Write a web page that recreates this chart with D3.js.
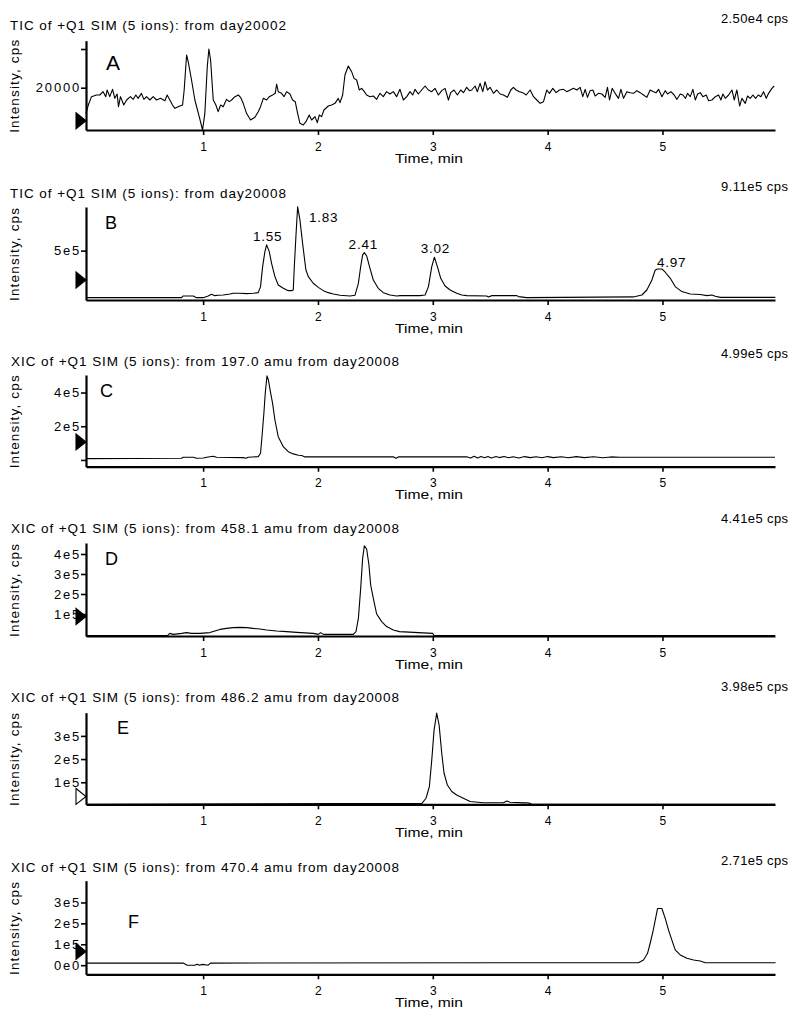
<!DOCTYPE html>
<html><head><meta charset="utf-8">
<script src="https://cdn.jsdelivr.net/npm/d3@7"></script>
<style>
body{margin:0;background:#fff}
svg{display:block}
text{font-family:"Liberation Sans",Arial,Helvetica,sans-serif;fill:#000}
</style>
</head><body>
<svg id="chart" width="798" height="1014"></svg>
<script>
// ---------------- DATA ----------------
const timeDomain = [-0.02, 5.98];
const xTickValues = [1, 2, 3, 4, 5];

const panelTitles = [
  "TIC of +Q1 SIM (5 ions): from day20002",
  "TIC of +Q1 SIM (5 ions): from day20008",
  "XIC of +Q1 SIM (5 ions): from 197.0 amu from day20008",
  "XIC of +Q1 SIM (5 ions): from 458.1 amu from day20008",
  "XIC of +Q1 SIM (5 ions): from 486.2 amu from day20008",
  "XIC of +Q1 SIM (5 ions): from 470.4 amu from day20008"
];
const maxLabels = ["2.50e4 cps", "9.11e5 cps", "4.99e5 cps", "4.41e5 cps", "3.98e5 cps", "2.71e5 cps"];
const panelLetters = ["A", "B", "C", "D", "E", "F"];

const yTickValuesA = [20000, 25000];        const yTickLabelsA = ["20000", ""];
const yTickValuesB = [500000];              const yTickLabelsB = ["5e5"];
const yTickValuesC = [0, 200000, 400000];   const yTickLabelsC = ["", "2e5", "4e5"];
const yTickValuesD = [100000, 200000, 300000, 400000]; const yTickLabelsD = ["1e5", "2e5", "3e5", "4e5"];
const yTickValuesE = [100000, 200000, 300000];         const yTickLabelsE = ["1e5", "2e5", "3e5"];
const yTickValuesF = [0, 100000, 200000, 300000];      const yTickLabelsF = ["0e0", "1e5", "2e5", "3e5"];

const yDomainA = [14535, 26072];
const yDomainB = [36000, 910000];
const yDomainC = [-40000, 504000];
const yDomainD = [-10000, 455000];
const yDomainE = [5000, 400000];
const yDomainF = [-43500, 404000];

// threshold marker (triangle) values per panel
const markerValues = [15724, 224000, 107000, 87500, 38800, 65600];
const markerFilled = [true, true, true, true, false, true];

// Panel A: TIC day20002
const tA = [
 -0.02,0.000,0.028,0.071,0.100,0.129,0.152,0.164,0.187,0.211,
 0.231,0.251,0.263,0.280,0.309,0.333,0.367,0.391,0.414,0.434,
 0.463,0.484,0.507,0.536,0.565,0.594,0.629,0.667,0.687,0.710,
 0.733,0.754,0.797,0.821,0.835,0.856,0.870,0.899,0.928,0.966,
 0.995,1.015,1.036,1.050,1.065,1.088,1.111,1.131,1.152,1.175,
 1.204,1.227,1.248,1.277,1.306,1.326,1.349,1.378,1.413,1.451,
 1.480,1.500,1.524,1.553,1.576,1.605,1.628,1.640,1.654,1.683,
 1.704,1.727,1.756,1.779,1.802,1.823,1.843,1.872,1.895,1.924,
 1.945,1.974,1.994,2.012,2.032,2.052,2.090,2.119,2.148,2.177,
 2.192,2.215,2.235,2.264,2.293,2.314,2.337,2.360,2.380,2.404,
 2.424,2.453,2.482,2.511,2.540,2.569,2.598,2.627,2.656,2.685,
 2.714,2.744,2.773,2.802,2.825,2.845,2.874,2.903,2.933,2.961,
 2.991,3.019,3.049,3.078,3.107,3.136,3.156,3.185,3.214,3.243,
 3.267,3.295,3.319,3.339,3.368,3.388,3.412,3.435,3.455,3.476,
 3.499,3.528,3.557,3.586,3.615,3.650,3.679,3.702,3.726,3.755,
 3.784,3.813,3.848,3.877,3.906,3.935,3.964,3.993,4.016,4.045,
 4.074,4.103,4.138,4.167,4.196,4.225,4.254,4.283,4.306,4.327,
 4.347,4.370,4.394,4.414,4.443,4.472,4.501,4.521,4.539,4.562,
 4.588,4.617,4.638,4.661,4.690,4.719,4.748,4.777,4.806,4.835,
 4.864,4.893,4.922,4.945,4.966,4.995,5.024,5.044,5.073,5.102,
 5.126,5.155,5.178,5.201,5.218,5.242,5.265,5.286,5.306,5.329,
 5.352,5.381,5.402,5.431,5.460,5.489,5.509,5.526,5.547,5.576,
 5.605,5.625,5.648,5.672,5.692,5.721,5.741,5.764,5.788,5.811,
 5.834,5.857,5.880,5.904,5.924,5.953,5.973
];
const vA = [
 16690,17765,18841,19057,19057,19487,18841,19703,18841,19789,
 18626,19186,17550,18841,17765,18411,18841,18497,19057,18626,
 19272,18497,18841,18411,18841,18411,18626,18324,19057,18411,
 17765,17335,17636,17765,19703,24221,23360,20995,18411,16258,
 14535,16689,22714,25000,23575,18411,17765,16904,17765,17550,
 18497,18195,18411,18841,19057,18755,17980,16689,15827,16172,
 16904,17550,18626,18411,18841,19057,19272,20478,19487,19272,
 18841,19487,19186,18411,18195,16689,15397,15182,15612,16474,
 15827,16258,15483,16474,16258,17119,17636,17765,17980,18626,
 18066,19057,21637,22800,22070,21207,20995,19703,19918,19487,
 19057,18841,18928,18497,19272,18841,19487,19186,19487,18841,
 19789,18411,18841,19487,19057,19789,19186,19703,20220,19703,
 19487,19918,19057,19617,19918,18411,19358,19703,19057,19703,
 19358,20047,19617,19703,20220,19487,20564,19487,20780,19703,
 20047,19272,19703,19186,19057,18755,19703,20047,19703,19487,
 19358,19057,19703,18841,18411,17980,18195,19703,19272,19918,
 19358,19703,19789,19487,19703,19918,19703,20047,18841,19789,
 18755,19617,19703,18928,19272,19186,18755,20047,18411,19918,
 19272,18626,19789,18626,19487,19358,19272,19617,19358,19057,
 18755,19703,19487,19358,19789,18841,19617,19186,19487,19057,
 18497,19186,19057,18626,19272,18841,19789,18411,19186,19358,
 18841,19057,18324,18411,18841,19057,18411,19186,18626,19057,
 19703,18411,19703,17636,18626,17980,18928,18626,19057,18626,
 19057,18841,19487,18626,19272,19918,20220
];

// Panel B: TIC day20008
const tB = [
 -0.02,0.812,0.826,0.914,0.943,1.001,1.044,1.073,1.102,1.131,
 1.175,1.233,1.262,1.320,1.378,1.436,1.480,1.500,1.518,1.538,
 1.553,1.576,1.596,1.625,1.654,1.698,1.741,1.770,1.785,1.794,
 1.808,1.823,1.843,1.866,1.895,1.916,1.959,2.003,2.047,2.090,
 2.134,2.192,2.279,2.322,2.352,2.372,2.389,2.404,2.424,2.453,
 2.482,2.525,2.569,2.627,2.685,2.715,2.889,2.933,2.962,2.991,
 3.014,3.040,3.069,3.107,3.151,3.208,3.252,3.296,3.470,3.485,
 3.514,3.731,3.746,3.818,4.748,4.783,4.821,4.864,4.908,4.937,
 4.957,4.995,5.024,5.068,5.111,5.169,5.242,5.329,5.387,5.431,
 5.460,5.504,5.983
];
const vB = [
 58000,58000,74000,74000,58000,58000,74000,90000,77000,80000,
 83000,93000,99000,99000,96000,99000,105000,162000,350000,491000,
 554000,491000,381000,256000,177000,146000,124000,124000,130000,350000,
 632000,911000,789000,569000,318000,256000,193000,155000,124000,105000,
 93000,80000,74000,80000,193000,350000,460000,481000,450000,334000,
 224000,146000,105000,83000,74000,77000,77000,83000,162000,350000,
 438000,350000,240000,168000,130000,99000,83000,77000,74000,65000,
 77000,77000,68000,58000,65000,74000,83000,130000,224000,318000,
 328000,328000,297000,240000,162000,115000,93000,87000,77000,83000,
 71000,61000,61000
];
const peakLabelsB = ["1.55", "1.83", "2.41", "3.02", "4.97"];
const peakTimesB  = [1.553, 1.823, 2.404, 3.014, 4.976];
const peakValuesB = [554000, 911000, 481000, 438000, 328000];

// Panel C: XIC 197.0
const tC = [
 -0.02,0.812,0.826,0.914,0.943,1.001,1.044,1.088,1.117,1.349,
 1.372,1.393,1.480,1.500,1.515,1.529,1.541,1.556,1.567,1.588,
 1.605,1.625,1.654,1.698,1.741,1.785,1.829,1.858,1.887,2.660,
 2.680,2.700,3.280,3.300,3.330,3.360,3.390,3.420,3.450,3.480,
 3.510,3.550,3.580,3.620,3.660,3.700,3.750,3.800,3.850,3.900,
 3.950,4.000,4.050,4.120,4.180,4.250,4.320,4.400,4.480,4.550,
 4.630,5.980
];
const vC = [
 8000,10000,16000,16000,10000,12000,18000,22000,16000,14000,
 10000,16000,20000,40000,158000,277000,396000,499000,479000,396000,
 336000,237000,138000,79000,49000,36000,28000,26000,18000,18000,
 10000,18000,18000,18000,12000,22000,12000,20000,13000,21000,
 12000,20000,14000,21000,13000,19000,12000,20000,14000,19000,
 13000,20000,14000,19000,13000,20000,14000,19000,13000,18000,
 16000,16000
];

// Panel D: XIC 458.1
const tD = [
 -0.02,0.690,0.710,0.740,0.812,0.856,0.899,0.972,1.059,1.102,
 1.146,1.204,1.262,1.320,1.378,1.436,1.495,1.553,1.640,1.727,
 1.814,1.959,2.003,2.023,2.047,2.308,2.331,2.352,2.372,2.389,
 2.404,2.424,2.444,2.459,2.482,2.511,2.555,2.598,2.656,2.710,
 3.000,3.010,5.980
];
const vD = [
 -8000,-8000,3000,-2000,3000,7000,3000,3000,7000,15000,
 23000,28000,32000,33000,32000,28000,25000,20000,15000,12000,
 8000,3000,-2000,7000,-2000,-2000,12000,78000,228000,378000,
 441000,425000,345000,245000,178000,100000,62000,37000,20000,12000,
 3000,-8000,-8000
];

// Panel E: XIC 486.2
const tE = [
 -0.02,2.905,2.941,2.970,2.991,3.011,3.034,3.055,3.078,3.098,
 3.127,3.165,3.208,3.266,3.325,3.441,3.615,3.644,3.673,3.789,
 3.818,3.847,3.860,5.980
];
const vE = [
 5000,9000,31000,81000,196000,325000,398000,347000,225000,139000,
 88000,60000,45000,31000,17000,12000,12000,19000,14000,11000,
 12000,9000,5000,5000
];

// Panel F: XIC 470.4
const tF = [
 -0.02,0.826,0.861,0.928,0.948,0.966,0.995,1.044,1.064,4.791,
 4.835,4.870,4.893,4.917,4.937,4.957,4.995,5.024,5.053,5.082,
 5.111,5.155,5.213,5.271,5.329,5.373,5.985
];
const vF = [
 10000,10000,0,0,5000,0,4000,0,10000,12000,
 25000,57000,105000,160000,216000,271000,271000,224000,168000,120000,
 73000,49000,33000,25000,20000,12000,12000
];

// ---------------- LAYOUT ----------------
const X0 = 86, X1 = 775;
const layout = [
  {bottom:130,   top:40.7,  title:29.5,  right:22.7, lx:106, ly:70,    lsize:21},
  {bottom:300,   top:207,   title:198.3, right:191,  lx:105, ly:229.3, lsize:18},
  {bottom:466.7, top:375,   title:366,   right:358,  lx:100, ly:396.7, lsize:18},
  {bottom:636,   top:543,   title:533.3, right:523,  lx:105, ly:565,   lsize:18},
  {bottom:804.3, top:712.7, title:702.3, right:691,  lx:117, ly:734,   lsize:18},
  {bottom:974.3, top:880.7, title:871.7, right:865,  lx:128, ly:928,   lsize:18}
];

const series = [
  {t:tA, v:vA, dom:yDomainA, tv:yTickValuesA, tl:yTickLabelsA},
  {t:tB, v:vB, dom:yDomainB, tv:yTickValuesB, tl:yTickLabelsB},
  {t:tC, v:vC, dom:yDomainC, tv:yTickValuesC, tl:yTickLabelsC},
  {t:tD, v:vD, dom:yDomainD, tv:yTickValuesD, tl:yTickLabelsD},
  {t:tE, v:vE, dom:yDomainE, tv:yTickValuesE, tl:yTickLabelsE},
  {t:tF, v:vF, dom:yDomainF, tv:yTickValuesF, tl:yTickLabelsF}
];

const svg = d3.select("#chart");
const x = d3.scaleLinear().domain(timeDomain).range([X0, X1]);
const FONT = '"Liberation Sans",Arial,sans-serif';

series.forEach((s, i) => {
  const L = layout[i];
  const y = d3.scaleLinear().domain(s.dom).range([L.bottom, L.top]);
  const g = svg.append("g");

  // trace
  const pts = s.t.map((t, k) => [t, s.v[k]]);
  g.append("path")
    .datum(pts)
    .attr("fill", "none")
    .attr("stroke", "#000")
    .attr("stroke-width", 1.1)
    .attr("stroke-linejoin", "round")
    .attr("d", d3.line().x(d => x(d[0])).y(d => y(d[1])));

  // x axis
  const xa = g.append("g")
    .attr("transform", `translate(0,${L.bottom})`)
    .call(d3.axisBottom(x).tickValues(xTickValues).tickFormat(d3.format("d")).tickSize(5).tickSizeOuter(0).tickPadding(7));
  xa.select(".domain").attr("stroke-width", 2.2);
  xa.selectAll(".tick line").attr("stroke-width", 1.6);
  xa.selectAll("text").attr("font-size", 12).style("font-family", FONT).attr("fill", "#000");

  // y axis
  const ya = g.append("g")
    .attr("transform", `translate(${X0},0)`)
    .call(d3.axisLeft(y).tickValues(s.tv).tickFormat((d, k) => s.tl[k]).tickSize(5).tickSizeOuter(0).tickPadding(0));
  ya.select(".domain").attr("stroke-width", 2.2);
  ya.selectAll(".tick line").attr("stroke-width", 1.6);
  ya.selectAll("text").attr("font-size", 13).attr("letter-spacing", 1.8)
    .style("font-family", FONT).attr("fill", "#000");

  // marker triangle
  const my = y(markerValues[i]);
  g.append("path")
    .attr("d", `M${X0 - 10},${my - 8} L${X0},${my} L${X0 - 10},${my + 8} Z`)
    .attr("fill", markerFilled[i] ? "#000" : "#fff")
    .attr("stroke", "#000")
    .attr("stroke-width", 1.1);

  // title
  g.append("text")
    .attr("x", i < 2 ? 10 : 11).attr("y", L.title)
    .attr("font-size", 13.5)
    .attr("textLength", i < 2 ? 276 : 388)
    .attr("lengthAdjust", "spacing")
    .text(panelTitles[i]);

  // max label
  g.append("text")
    .attr("x", 721).attr("y", L.right)
    .attr("font-size", 13)
    .attr("textLength", 67)
    .attr("lengthAdjust", "spacing")
    .text(maxLabels[i]);

  // panel letter
  g.append("text")
    .attr("x", L.lx).attr("y", L.ly)
    .attr("font-size", L.lsize)
    .text(panelLetters[i]);

  // y axis label
  const mid = (L.bottom + L.top) / 2 + 1;
  g.append("text")
    .attr("transform", `translate(19,${mid}) rotate(-90)`)
    .attr("text-anchor", "middle")
    .attr("font-size", 13.5)
    .attr("textLength", 93)
    .attr("lengthAdjust", "spacing")
    .text("Intensity, cps");

  // x axis label
  g.append("text")
    .attr("x", 395).attr("y", L.bottom + 32.5)
    .attr("font-size", 12)
    .attr("textLength", 68)
    .attr("lengthAdjust", "spacingAndGlyphs")
    .text("Time, min");

  // peak labels (panel B)
  if (i === 1) {
    const dxs = [1, 26, -1, 1, 12];
    const dys = [-4, 15, -4, -4, -2];
    peakLabelsB.forEach((lab, k) => {
      g.append("text")
        .attr("x", x(peakTimesB[k]) + dxs[k])
        .attr("y", y(peakValuesB[k]) + dys[k])
        .attr("text-anchor", "middle")
        .attr("font-size", 13.5)
        .attr("letter-spacing", 0.8)
        .text(lab);
    });
  }
});
</script>
</body></html>
